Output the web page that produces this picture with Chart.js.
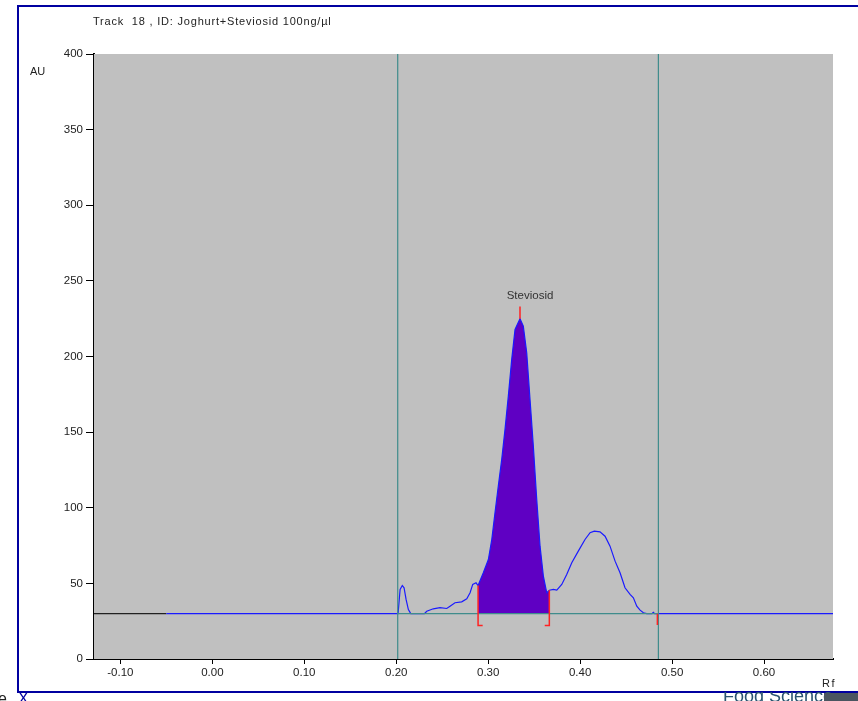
<!DOCTYPE html>
<html>
<head>
<meta charset="utf-8">
<script src="https://cdn.jsdelivr.net/npm/chart.js@4.4.1/dist/chart.umd.min.js"></script>
<style>
  body { margin: 0; background: #fff; font-family: 'Liberation Sans', Arial, sans-serif; }
  #wrap { position: relative; width: 858px; height: 701px; overflow: hidden; }
  #frame { position: absolute; left: 17px; top: 5px; width: 900px; height: 684px;
           border-top: 2px solid #0000a0; border-left: 2px solid #0000a0; border-bottom: 2px solid #0000a0; }
  #box { position: absolute; left: 0; top: 0; width: 858px; height: 701px; }
  .lbl { position: absolute; font-size: 11px; color: #222; white-space: pre; line-height: 11px; }
  .clip { position: absolute; top: 692px; height: 9px; overflow: hidden; }
  .clip span { position: absolute; white-space: nowrap; }
  #foot i { position: absolute; left: 124px; top: 1px; width: 34px; height: 8px; background: #4a5560; }
</style>
</head>
<body>
<div id="wrap">
  <div id="frame"></div>
  <div id="box"><canvas id="chromChart"></canvas></div>
  <div class="lbl" style="left:93px;top:16px;letter-spacing:0.8px;">Track  18 , ID: Joghurt+Steviosid 100ng/µl</div>
  <div class="lbl" style="left:30px;top:66px;">AU</div>
  <div class="lbl" style="left:822px;top:678px;letter-spacing:1.5px;">Rf</div>
  <div class="clip" id="foot" style="left:700px;width:158px;"><span style="left:23px;top:-6px;font-size:18px;color:#2a5470;">Food Science</span><i></i></div>
  <div class="clip" style="left:0;width:40px;"><span style="left:-2px;top:-2px;font-size:16px;color:#222;">e</span><span style="left:18px;top:-2px;font-size:16px;color:#0000a0;">X</span></div>
</div>
<script>
// densitogram trace (Rf, AU)
const traceRf = [-0.1287, -0.05, 0.2016, 0.2020, 0.2042, 0.2066, 0.2085, 0.2107, 0.2132, 0.2158,
  0.2306, 0.2332, 0.2403, 0.2476, 0.2549, 0.2585, 0.2639, 0.2712, 0.2767, 0.2803, 0.2832, 0.2868,
  0.2890, 0.2947, 0.3002, 0.3039, 0.3074, 0.3110, 0.3147, 0.3183, 0.3219, 0.3256, 0.3292, 0.3346,
  0.3382, 0.3419, 0.3455, 0.3491, 0.3528, 0.3564, 0.3600, 0.3637, 0.3665, 0.3709, 0.3746, 0.3800,
  0.3854, 0.3909, 0.3980, 0.4053, 0.4108, 0.4154, 0.4216, 0.4271, 0.4325, 0.4380, 0.4434, 0.4488,
  0.4543, 0.4579, 0.4616, 0.4652, 0.4688, 0.4724, 0.4780, 0.4796, 0.4810, 0.6750];
const traceAu = [30, 30, 30, 30, 46.0, 48.6, 47.1, 39.4, 32.7, 30.0,
  30.0, 31.6, 33.2, 33.9, 33.4, 34.9, 37.2, 37.8, 39.8, 43.8, 49.3, 50.4,
  48.6, 57.0, 65.8, 79.0, 96.7, 114.3, 131.9, 151.8, 173.8, 198.1, 217.9, 225.0,
  220.1, 202.5, 171.6, 140.7, 105.5, 74.6, 54.8, 43.8, 45.5, 46.0, 45.5, 49.3,
  55.9, 63.6, 71.3, 79.0, 83.5, 84.5, 84.1, 81.2, 74.6, 64.7, 57.0, 47.1,
  42.7, 40.5, 34.9, 32.3, 30.6, 30.0, 30.0, 30.8, 30.0, 30];

const baselineAu = 30;
const scanStartRf = -0.05;        // trace is black before this
const frontRf = [0.2016, 0.4851]; // teal start / front lines
const peakRange = [0.2890, 0.3665];
const peakTopRf = 0.3346;
const peakTopAu = 225.0;
const peakName = 'Steviosid';
const endMarkRf = 0.4840;

const xTicks = [-0.10, 0.00, 0.10, 0.20, 0.30, 0.40, 0.50, 0.60];
const yTicks = [0, 50, 100, 150, 200, 250, 300, 350, 400];

const pts = traceRf.map((x, i) => ({ x: x, y: traceAu[i] }));
const peakPts = pts.filter(p => p.x >= peakRange[0] && p.x <= peakRange[1]);
const auAt = rf => pts.find(p => p.x === rf).y;

const red = '#ff2222';
const teal = '#3f8c8c';
const lowAu = 22.2;
const tickFont = { size: 11.5, family: '"Liberation Sans", Arial, sans-serif' };

function line(data, color, order, width) {
  return { data: data, borderColor: color, borderWidth: width || 1.2, pointRadius: 0,
           showLine: true, fill: false, order: order, tension: 0 };
}

const datasets = [
  line([{ x: peakRange[0], y: auAt(peakRange[0]) }, { x: peakRange[0], y: lowAu }, { x: peakRange[0] + 0.005, y: lowAu }], red, 0, 1.5),
  line([{ x: peakRange[1], y: auAt(peakRange[1]) }, { x: peakRange[1], y: lowAu }, { x: peakRange[1] - 0.005, y: lowAu }], red, 0, 1.5),
  line([{ x: peakTopRf, y: peakTopAu }, { x: peakTopRf, y: 233 }], red, 0, 1.5),
  line([{ x: endMarkRf, y: baselineAu }, { x: endMarkRf, y: 22.5 }], red, 0, 1.5),
  line([{ x: frontRf[0], y: baselineAu }, { x: frontRf[1], y: baselineAu }], teal, 1, 1.2),
  line([{ x: frontRf[0], y: 0 }, { x: frontRf[0], y: 400 }], teal, 1, 1.2),
  line([{ x: frontRf[1], y: 0 }, { x: frontRf[1], y: 400 }], teal, 1, 1.2),
  Object.assign(line(pts, '#1a1aff', 2, 1.2), {
    segment: { borderColor: c => c.p1.parsed.x <= scanStartRf ? '#202020' : '#1a1aff' }
  }),
  { data: peakPts, showLine: true, pointRadius: 0, borderWidth: 0, borderColor: 'rgba(0,0,0,0)',
    backgroundColor: '#5f00c3', fill: { value: baselineAu }, order: 3, tension: 0 }
];

const plotBg = {
  id: 'plotBg',
  beforeDatasetsDraw(chart) {
    const a = chart.chartArea, ctx = chart.ctx;
    ctx.save();
    ctx.fillStyle = '#c0c0c0';
    ctx.fillRect(a.left, a.top, a.right - a.left, a.bottom - a.top);
    ctx.restore();
  },
  afterDatasetsDraw(chart) {
    const ctx = chart.ctx;
    ctx.save();
    ctx.font = '11.5px "Liberation Sans", Arial, sans-serif';
    ctx.fillStyle = '#333';
    ctx.textAlign = 'center';
    ctx.textBaseline = 'alphabetic';
    ctx.fillText(peakName, chart.scales.x.getPixelForValue(0.3455), chart.scales.y.getPixelForValue(238));
    ctx.restore();
  }
};

new Chart(document.getElementById('chromChart'), {
  type: 'scatter',
  data: { datasets: datasets },
  plugins: [plotBg],
  options: {
    responsive: true,
    maintainAspectRatio: false,
    animation: false,
    layout: { padding: { left: 34, top: 54, right: 25, bottom: 12 } },
    plugins: { legend: { display: false }, tooltip: { enabled: false } },
    scales: {
      x: {
        type: 'linear', min: -0.1287, max: 0.675,
        afterBuildTicks: s => { s.ticks = xTicks.map(v => ({ value: v })); },
        afterFit: s => { s.height = 30; },
        grid: { drawOnChartArea: false, drawTicks: true, tickLength: 5, color: '#000' },
        border: { color: '#000', width: 2 },
        ticks: { padding: 2, color: '#222', font: tickFont, maxRotation: 0, callback: v => v.toFixed(2) }
      },
      y: {
        min: 0, max: 400,
        afterBuildTicks: s => { s.ticks = yTicks.map(v => ({ value: v })); },
        afterFit: s => { s.width = 60; },
        grid: { drawOnChartArea: false, drawTicks: true, tickLength: 8, color: '#000' },
        border: { color: '#000', width: 2 },
        ticks: { padding: 3, color: '#222', font: tickFont }
      }
    }
  }
});
</script>
</body>
</html>
